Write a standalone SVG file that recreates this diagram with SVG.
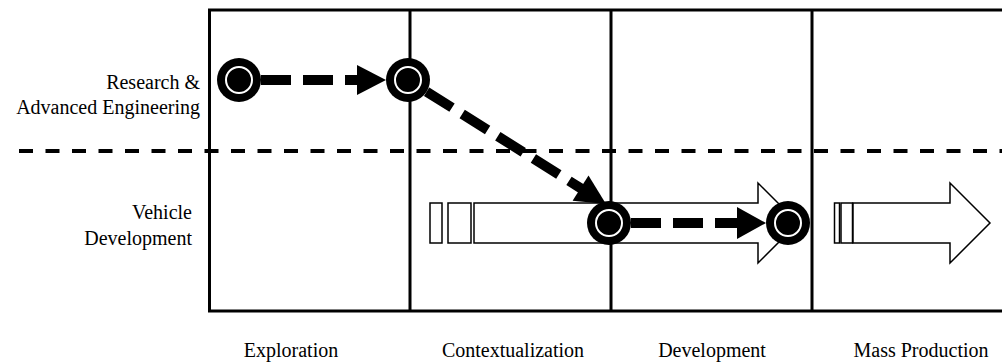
<svg xmlns="http://www.w3.org/2000/svg" width="1002" height="363" viewBox="0 0 1002 363">
<style>
text{font-family:'Liberation Serif','Times New Roman','DejaVu Serif','Noto Serif',serif;font-size:20px;fill:#000}
.frame{stroke:#000;stroke-width:3;fill:none}
.hollow{fill:#fff;stroke:#000;stroke-width:1.5}
.dash{stroke:#000;stroke-width:10;fill:none;stroke-dasharray:30 12}
</style>
<defs>
<g id="milestone">
<circle r="22" fill="#000"/>
<circle r="13" fill="#000" stroke="#fff" stroke-width="2"/>
</g>
</defs>
<rect width="1002" height="363" fill="#fff"/>
<g id="frame">
<path class="frame" d="M1002 10H209.5V311H1002M410 10V311M611 10V311M812 10V311"/>
<line x1="19" y1="151" x2="1002" y2="151" stroke="#000" stroke-width="4" stroke-dasharray="14 12.5"/>
</g>
<g id="lane-labels">
<text font-family="Liberation Serif, serif" text-anchor="end" x="200" y="89">Research &amp;</text>
<text font-family="Liberation Serif, serif" text-anchor="end" x="200" y="114">Advanced Engineering</text>
<text font-family="Liberation Serif, serif" text-anchor="end" x="192" y="219">Vehicle</text>
<text font-family="Liberation Serif, serif" text-anchor="end" x="192" y="245">Development</text>
</g>
<g id="phase-labels">
<text font-family="Liberation Serif, serif" text-anchor="middle" x="291" y="357">Exploration</text>
<text font-family="Liberation Serif, serif" text-anchor="middle" x="513" y="357">Contextualization</text>
<text font-family="Liberation Serif, serif" text-anchor="middle" x="712" y="357">Development</text>
<text font-family="Liberation Serif, serif" text-anchor="middle" x="921" y="357">Mass Production</text>
</g>
<g id="hollow-arrow-development">
<rect class="hollow" x="430" y="203" width="12" height="40"/>
<rect class="hollow" x="448" y="203" width="23" height="40"/>
<path class="hollow" d="M474 203H758V183L798 223L758 263V243H474Z"/>
</g>
<g id="hollow-arrow-production">
<rect class="hollow" x="834.5" y="203" width="5" height="40"/>
<rect class="hollow" x="841" y="203" width="11.5" height="40"/>
<path class="hollow" d="M853 203H950V183L990 223L950 263V243H853Z" stroke-width="2"/>
</g>
<g id="connectors">
<line class="dash" x1="261" y1="80" x2="358" y2="80"/>
<polygon points="357,65 386,80 357,95" fill="#000"/>
<line class="dash" x1="426.6" y1="91.7" x2="581.5" y2="188.7"/>
<polygon points="572.6,200.8 606,204 588.5,175.4" fill="#000"/>
<line class="dash" x1="631" y1="223" x2="738" y2="223"/>
<polygon points="737,207 766,223 737,239" fill="#000"/>
</g>
<g id="node-1"><use href="#milestone" x="239" y="80"/></g>
<g id="node-2"><use href="#milestone" x="408" y="80"/></g>
<g id="node-3"><use href="#milestone" x="609" y="223"/></g>
<g id="node-4"><use href="#milestone" x="788" y="223"/></g>
</svg>
